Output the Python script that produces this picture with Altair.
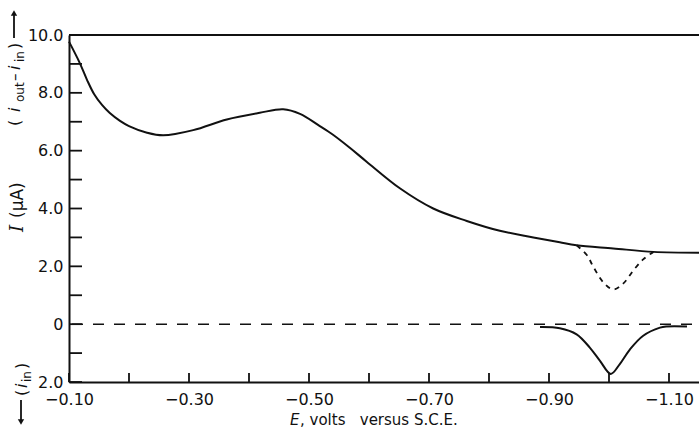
import altair as alt
import pandas as pd

# ---- data ----
E_main = [-0.100, -0.118, -0.130, -0.142, -0.155, -0.168, -0.185, -0.200, -0.230, -0.257,
          -0.307, -0.363, -0.418, -0.457, -0.485, -0.518, -0.540, -0.568, -0.596, -0.652,
          -0.707, -0.763, -0.818, -0.874, -0.918, -0.946, -1.007, -1.074, -1.150]
I_main = [9.77, 9.03, 8.45, 7.95, 7.58, 7.30, 7.03, 6.85, 6.62, 6.53,
          6.71, 7.08, 7.31, 7.43, 7.27, 6.85, 6.55, 6.10, 5.62, 4.69,
          4.00, 3.57, 3.23, 3.00, 2.83, 2.73, 2.62, 2.50, 2.47]

E_dip = [-0.946, -0.963, -0.974, -0.990, -1.007, -1.024, -1.041, -1.057, -1.074]
I_dip = [2.73, 2.39, 1.98, 1.46, 1.20, 1.41, 1.87, 2.24, 2.50]

E_in = [-0.885, -0.918, -0.946, -0.968, -0.985, -1.003, -1.018, -1.035, -1.057,
        -1.085, -1.096, -1.130]
I_in = [-0.10, -0.14, -0.35, -0.81, -1.27, -1.72, -1.38, -0.87, -0.40,
        -0.12, -0.08, -0.08]

x_label_values = [-0.10, -0.30, -0.50, -0.70, -0.90, -1.10]
x_tick_values = [-0.10, -0.20, -0.30, -0.40, -0.50, -0.60, -0.70, -0.80, -0.90, -1.00, -1.10]
y_label_values = [-2, 0, 2, 4, 6, 8, 10]
y_tick_values = [-2, -1, 0, 1, 2, 3, 4, 5, 6, 7, 8, 9, 10]

W, H = 630, 347
FONT = "DejaVu Sans"
CURVE = "catmull-rom"

x_scale = alt.Scale(domain=[-1.15, -0.10], reverse=True, nice=False, zero=False)
y_scale = alt.Scale(domain=[-2, 10], nice=False, zero=False)

main_df = pd.DataFrame({"E": E_main, "I": I_main})
dip_df = pd.DataFrame({"E": E_dip, "I": I_dip})
in_df = pd.DataFrame({"E": E_in, "I": I_in})

main = alt.Chart(main_df).mark_line(color="#111", strokeWidth=2, interpolate=CURVE).encode(
    x=alt.X("E:Q", scale=x_scale,
            axis=alt.Axis(values=x_label_values, format=".2f", title=None, ticks=False,
                          grid=False, labelFont=FONT, labelFontSize=16, labelColor="#111",
                          labelPadding=9, labelFlush=False, domainColor="#111",
                          domainWidth=2)),
    y=alt.Y("I:Q", scale=y_scale,
            axis=alt.Axis(values=y_label_values, title=None, ticks=False, grid=False,
                          labelExpr="datum.value == 0 ? '0' : format(abs(datum.value), '.1f')",
                          labelFont=FONT, labelFontSize=16, labelColor="#111",
                          labelPadding=6, labelFlush=False, domainColor="#111",
                          domainWidth=2)),
)

dip = alt.Chart(dip_df).mark_line(color="#111", strokeWidth=1.8, strokeDash=[5, 5],
                                  interpolate=CURVE).encode(
    x=alt.X("E:Q", scale=x_scale), y=alt.Y("I:Q", scale=y_scale))

low = alt.Chart(in_df).mark_line(color="#111", strokeWidth=2, interpolate=CURVE).encode(
    x=alt.X("E:Q", scale=x_scale), y=alt.Y("I:Q", scale=y_scale))

zero = alt.Chart(pd.DataFrame({"y": [0]})).mark_rule(
    color="#111", strokeWidth=1.5, strokeDash=[11, 10], strokeDashOffset=-24).encode(
    y=alt.Y("y:Q", scale=y_scale), x=alt.value(0), x2=alt.value(W))

top = alt.Chart(pd.DataFrame({"y": [10]})).mark_rule(color="#111", strokeWidth=2).encode(
    y=alt.Y("y:Q", scale=y_scale), x=alt.value(0), x2=alt.value(W))

yticks = alt.Chart(pd.DataFrame({"y": y_tick_values})).mark_rule(color="#111", strokeWidth=1.8).encode(
    y=alt.Y("y:Q", scale=y_scale), x=alt.value(0), x2=alt.value(13))

xticks = alt.Chart(pd.DataFrame({"x": x_tick_values})).mark_rule(color="#111", strokeWidth=1.8).encode(
    x=alt.X("x:Q", scale=x_scale), y=alt.value(H), y2=alt.value(H - 9))

one = pd.DataFrame({"a": [0]})


def txt(s, px, py, size=15, angle=0, align="left", style="normal", font=FONT, baseline="middle"):
    return alt.Chart(one).mark_text(text=s, fontSize=size, angle=angle, align=align,
                                    baseline=baseline, fontStyle=style, font=font,
                                    color="#111").encode(
        x=alt.value(px - 69), y=alt.value(py - 35))


layers = [main, dip, low, zero, top, yticks, xticks]

# x-axis title
layers += [
    txt("E", 290, 425, size=15, style="italic", baseline="alphabetic"),
    txt(",\u00a0volts\u00a0\u00a0\u00a0versus\u00a0S.C.E.", 300, 425, size=15, baseline="alphabetic"),
]

# y-axis title pieces (rotated)
layers += [
    txt("(", 15, 126, size=16, angle=270),
    txt("i", 15, 112, size=16, angle=270, style="italic"),
    txt("out", 20, 102, size=12, angle=270),
    txt("–", 15, 81, size=15, angle=270),
    txt("i", 15, 70, size=16, angle=270, style="italic"),
    txt("in", 20, 62, size=12, angle=270),
    txt(")", 15, 49, size=16, angle=270),
    txt("I", 18, 232, size=18, angle=270, style="italic", font="DejaVu Serif"),
    txt("(μA)", 18, 218, size=17, angle=270),
    txt("(", 22, 396, size=16, angle=270),
    txt("i", 22, 388, size=16, angle=270, style="italic"),
    txt("in", 27, 382, size=12, angle=270),
    txt(")", 22, 369, size=16, angle=270),
]

# arrows
layers += [
    alt.Chart(one).mark_rule(color="#111", strokeWidth=1.8).encode(
        x=alt.value(14 - 69), y=alt.value(38 - 35), y2=alt.value(14 - 35)),
    alt.Chart(one).mark_point(shape="triangle-up", filled=True, color="#111", size=40, opacity=1).encode(
        x=alt.value(14 - 69), y=alt.value(13 - 35)),
    alt.Chart(one).mark_rule(color="#111", strokeWidth=1.8).encode(
        x=alt.value(21 - 69), y=alt.value(400 - 35), y2=alt.value(420 - 35)),
    alt.Chart(one).mark_point(shape="triangle-down", filled=True, color="#111", size=40, opacity=1).encode(
        x=alt.value(21 - 69), y=alt.value(422 - 35)),
]

chart = alt.layer(*layers).properties(
    width=W, height=H,
    autosize=alt.AutoSizeParams(type="none"),
    padding={"left": 69, "top": 35, "right": 0, "bottom": 48},
    background="white",
).configure_view(stroke=None)

chart.save("out.html", embed_options={"renderer": "svg", "actions": False})
